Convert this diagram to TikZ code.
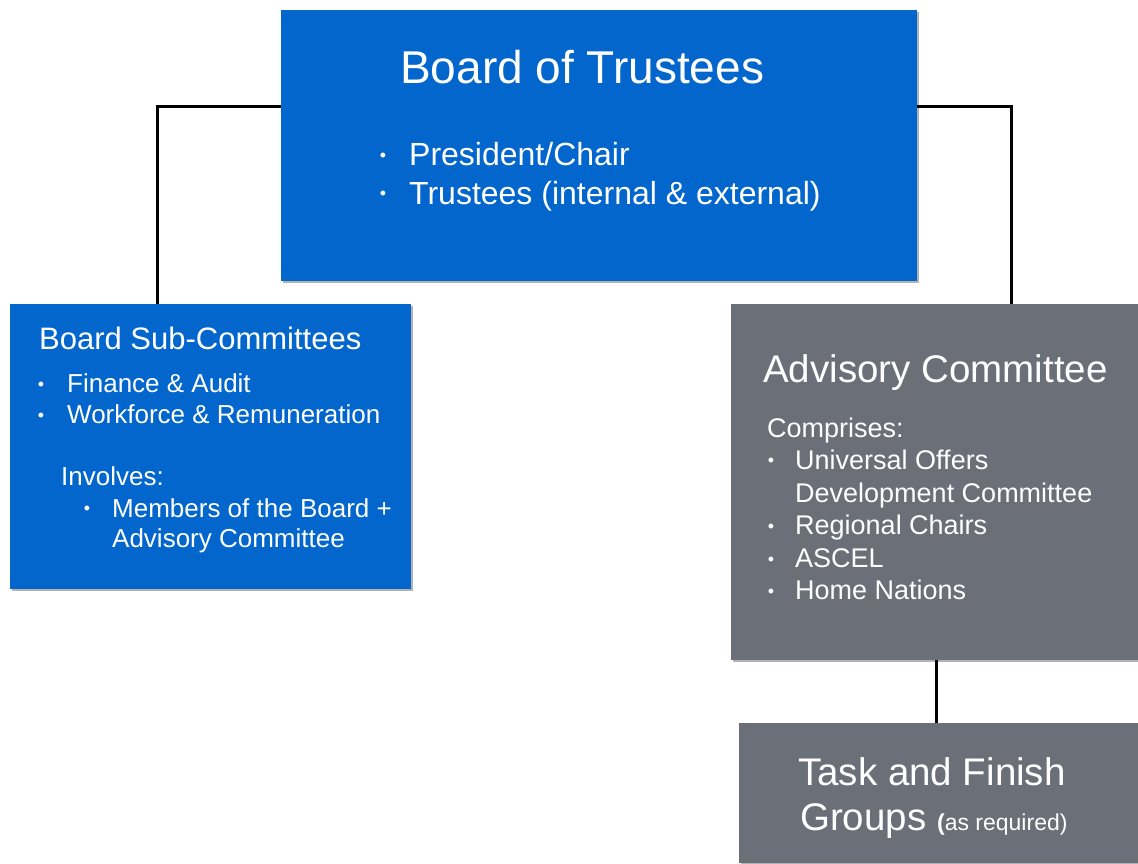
\documentclass[tikz,border=0pt]{standalone}
\usepackage{fontspec}
\setmainfont{Liberation Sans}
\usetikzlibrary{shadows}
\definecolor{boardblue}{RGB}{3,102,204}
\definecolor{slategrey}{RGB}{106,111,120}
\newcommand{\fsz}[1]{\fontsize{#1}{#1}\selectfont}
\tikzset{
  box/.style={rectangle, inner sep=0pt, draw=none,
    drop shadow={shadow xshift=1.5pt, shadow yshift=-2pt, opacity=0.3, fill=black}},
  bluebox/.style={box, fill=boardblue},
  greybox/.style={box, fill=slategrey},
  txt/.style={anchor=base west, inner sep=0pt, text=white},
  dot/.style={anchor=center, inner sep=0pt, text=white, font=\fsz{18}},
  link/.style={draw=black, line width=3pt},
}
\begin{document}
\begin{tikzpicture}[x=1pt, y=-1pt]
\useasboundingbox (0,0) rectangle (1138,863);
\fill[white] (0,0) rectangle (1138,863);

% boxes
\node[bluebox, minimum width=636, minimum height=271] (bot) at (599,145.5) {};
\node[bluebox, minimum width=401, minimum height=285] (sub) at (210.5,446.5) {};
\node[greybox, minimum width=407, minimum height=356] (adv) at (934.5,482) {};
\node[greybox, minimum width=399, minimum height=140] (task) at (938.5,793) {};

% connectors
\draw[link] ([yshift=39.5pt]bot.west) -| ([xshift=-53.5pt]sub.north);
\draw[link] ([yshift=39.5pt]bot.east) -| ([xshift=76.5pt]adv.north);
\draw[link] ([xshift=1.5pt]adv.south) -- ([xshift=-2.5pt]task.north);

% Board of Trustees
\node[txt, font=\fsz{46}] (botT) at (400,83) {Board of Trustees};
\node[dot] (botB1) at (383,157) {•};
\node[txt, font=\fsz{32}] (botI1) at (409,165) {President/Chair};
\node[dot] (botB2) at (383,195.5) {•};
\node[txt, font=\fsz{32}] (botI2) at (409,204) {Trustees (internal \& external)};

% Board Sub-Committees
\node[txt, font=\fsz{31}] (subT) at (39,349) {Board Sub-Committees};
\node[dot] (subB1) at (41,386.5) {•};
\node[txt, font=\fsz{26}] (subI1) at (67,392) {Finance \& Audit};
\node[dot] (subB2) at (41,417) {•};
\node[txt, font=\fsz{26}] (subI2) at (67,423) {Workforce \& Remuneration};
\node[txt, font=\fsz{26}] (subInv) at (61,485) {Involves:};
\node[dot] (subB3) at (87,510.5) {•};
\node[txt, font=\fsz{26}] (subI3) at (112,517) {Members of the Board +};
\node[txt, font=\fsz{26}] (subI4) at (112,547) {Advisory Committee};

% Advisory Committee
\node[txt, font=\fsz{38.5}] (advT) at (763,382) {Advisory Committee};
\node[txt, font=\fsz{27}] (advC) at (767,437) {Comprises:};
\node[dot] (advB1) at (771,462.5) {•};
\node[txt, font=\fsz{27}] (advI1) at (795,469) {Universal Offers};
\node[txt, font=\fsz{27}] (advI1b) at (795,502) {Development Committee};
\node[dot] (advB2) at (771,528) {•};
\node[txt, font=\fsz{27}] (advI2) at (795,534) {Regional Chairs};
\node[dot] (advB3) at (771,561) {•};
\node[txt, font=\fsz{27}] (advI3) at (795,567) {ASCEL};
\node[dot] (advB4) at (771,593) {•};
\node[txt, font=\fsz{27}] (advI4) at (795,599) {Home Nations};

% Task and Finish Groups
\node[txt, font=\fsz{38.5}] (taskT1) at (798,785) {Task and Finish};
\node[txt, font=\fsz{38.5}] (taskT2) at (800,830) {Groups {\fsz{23}\textbf{(}as required)}};
\end{tikzpicture}
\end{document}
